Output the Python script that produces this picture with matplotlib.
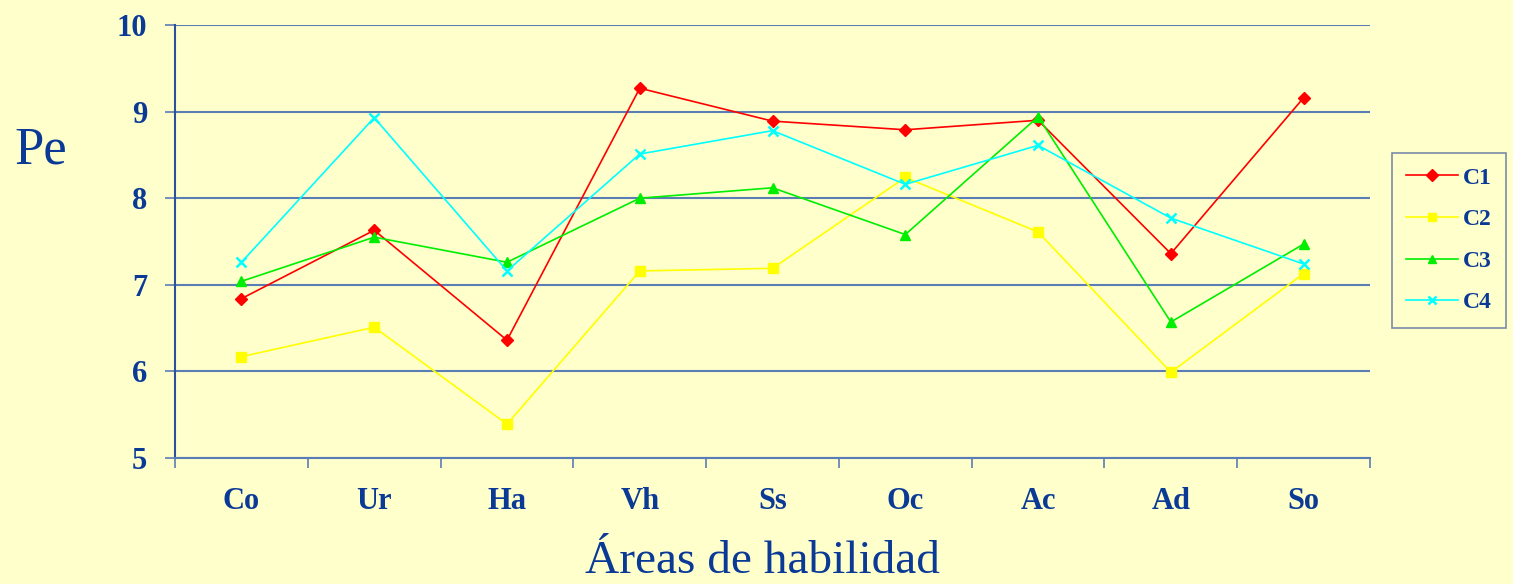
import numpy as np
import matplotlib
matplotlib.use('Agg')
import matplotlib.pyplot as plt

areas = ['Co', 'Ur', 'Ha', 'Vh', 'Ss', 'Oc', 'Ac', 'Ad', 'So']
c1 = [6.84, 7.63, 6.36, 9.27, 8.89, 8.79, 8.90, 7.36, 9.16]
c2 = [6.17, 6.51, 5.39, 7.16, 7.19, 8.24, 7.61, 5.99, 7.13]
c3 = [7.04, 7.55, 7.26, 8.00, 8.12, 7.58, 8.94, 6.57, 7.47]
c4 = [7.26, 8.93, 7.16, 8.51, 8.78, 8.16, 8.61, 7.77, 7.24]

bg = '#FFFFCC'
txt = '#0A3A96'
grid = '#5B7DB5'

plt.rcParams['font.family'] = ['Liberation Serif', 'DejaVu Serif']

fig = plt.figure(figsize=(15.13, 5.84), dpi=100, facecolor=bg)
ax = fig.add_axes([0.1157, 0.2158, 0.7898, 0.7414])
ax.set_facecolor(bg)

x = np.arange(len(areas))
ax.plot(x, c1, color='#FF0000', lw=1.2, marker='D', ms=6, label='C1')
ax.plot(x, c2, color='#FFFF00', lw=1.2, marker='s', ms=7, label='C2')
ax.plot(x, c3, color='#00EE00', lw=1.2, marker='^', ms=7, label='C3')
ax.plot(x, c4, color='#00FFFF', lw=1.2, marker='x', ms=7, mew=1.8, label='C4')

ax.set_xlim(-0.5, len(areas) - 0.5)
ax.set_ylim(5, 10)
ax.set_yticks([5, 6, 7, 8, 9, 10])
ax.yaxis.grid(True, color=grid, lw=1.5)
ax.set_axisbelow(True)

# ticks between categories, labels at centres
ax.set_xticks(np.arange(-0.5, len(areas)))
ax.set_xticklabels([])
ax.set_xticks(x, minor=True)
ax.set_xticklabels(areas, minor=True)
ax.tick_params(axis='x', which='major', direction='out', length=7, width=1.2, color=grid)
ax.tick_params(axis='x', which='minor', length=0, pad=21, labelsize=22, labelcolor=txt)
for t in ax.get_xticklabels(minor=True):
    t.set_fontweight('bold')
ax.tick_params(axis='y', direction='out', length=7, width=1.2, color=grid, pad=13,
               labelsize=22, labelcolor=txt)
for t in ax.get_yticklabels():
    t.set_fontweight('bold')

for s in ['top', 'right']:
    ax.spines[s].set_visible(False)
ax.spines['left'].set_color('#2E4E9E')
ax.spines['left'].set_linewidth(1.5)
ax.spines['bottom'].set_color(grid)
ax.spines['bottom'].set_linewidth(1.5)

fig.text(0.027, 0.743, 'Pe', fontsize=38, color=txt, ha='center', va='center')
fig.text(0.504, 0.002, 'Áreas de habilidad', fontsize=34, color=txt, ha='center', va='bottom')

leg = ax.legend(loc='upper left', bbox_to_anchor=(0.920, 0.738), bbox_transform=fig.transFigure,
                frameon=True, fancybox=False, facecolor=bg, edgecolor='#5B6E9E',
                prop={'weight': 'bold', 'size': 17}, labelspacing=0.85, handlelength=2.2,
                handletextpad=0.2, borderpad=0.6, borderaxespad=0)
leg.get_frame().set_linewidth(1.2)
for t in leg.get_texts():
    t.set_color(txt)
for h in leg.legend_handles:
    h.set_markersize(6)

plt.savefig('out.png', dpi=100, facecolor=bg)
